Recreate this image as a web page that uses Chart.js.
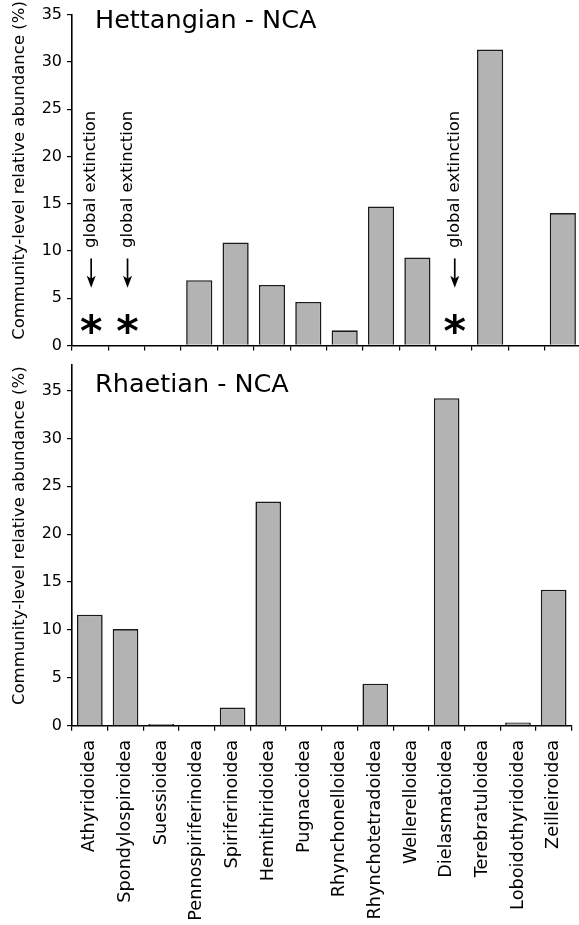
<!DOCTYPE html>
<html><head><meta charset="utf-8">
<script src="https://cdn.jsdelivr.net/npm/chart.js@4.4.1/dist/chart.umd.min.js"></script>
<style>
html,body{margin:0;padding:0;background:#fff;overflow:hidden;width:579px;height:925px;}
#wrap{position:relative;width:579px;height:925px;overflow:hidden;background:#fff;}
canvas{position:absolute;left:0;}
#c1{top:0;} #c2{top:350px;}
</style></head><body>
<div id="wrap">
<canvas id="c1" width="584" height="360"></canvas>
<canvas id="c2" width="584" height="575"></canvas>
</div>
<script>
// ---- data ----
const categories = ["Athyridoidea", "Spondylospiroidea", "Suessioidea", "Pennospiriferinoidea",
  "Spiriferinoidea", "Hemithiridoidea", "Pugnacoidea", "Rhynchonelloidea", "Rhynchotetradoidea",
  "Wellerelloidea", "Dielasmatoidea", "Terebratuloidea", "Loboidothyridoidea", "Zeilleiroidea"];
const hettangianValues = [null, null, 0, 6.9, 10.9, 6.4, 4.6, 1.6, 14.7, 9.3, null, 31.3, 0, 14.0];
const rhaetianValues = [11.6, 10.1, 0.2, 0, 1.9, 23.4, 0, 0, 4.4, 0, 34.2, 0, 0.35, 14.2];
const hettangianExtinct = ["Athyridoidea", "Spondylospiroidea", "Dielasmatoidea"];
const yTickValues = [0, 5, 10, 15, 20, 25, 30, 35];
const panelTitles = ["Hettangian - NCA", "Rhaetian - NCA"];
const yAxisTitle = "Community-level relative abundance (%)";
const extinctionLabel = "global extinction";

// ---- styling ----
const FONT = "'DejaVu Sans', sans-serif";
const INK = '#000';

const panelText = {
  id: 'panelText',
  afterDraw(chart, args, opts) {
    const {ctx, chartArea} = chart;
    ctx.save();
    ctx.fillStyle = INK;
    ctx.font = `25.5px ${FONT}`;
    ctx.textAlign = 'left'; ctx.textBaseline = 'alphabetic';
    ctx.fillText(opts.title, chartArea.left + 23, chartArea.top + opts.titleDy);
    ctx.translate(19.5, (chartArea.top + chartArea.bottom) / 2 - 9.5);
    ctx.rotate(-Math.PI / 2);
    ctx.font = `16.5px ${FONT}`;
    ctx.textAlign = 'center'; ctx.textBaseline = 'middle';
    ctx.fillText(yAxisTitle, 0, 0);
    ctx.restore();
  }
};

const extinctionMarks = {
  id: 'extinctionMarks',
  afterDatasetsDraw(chart, args, opts) {
    const names = opts.names || [];
    if (!names.length) return;
    const {ctx} = chart;
    const xs = chart.scales.x, ys = chart.scales.y;
    names.forEach(name => {
      const i = chart.data.labels.indexOf(name);
      if (i < 0) return;
      const x = xs.getPixelForValue(i) + 1;
      ctx.save();
      ctx.fillStyle = INK; ctx.strokeStyle = INK;
      ctx.save();
      ctx.translate(x, ys.getPixelForValue(opts.labelFrom));
      ctx.rotate(-Math.PI / 2);
      ctx.font = `16.5px ${FONT}`;
      ctx.textAlign = 'left'; ctx.textBaseline = 'middle';
      ctx.fillText(extinctionLabel, 0, 0);
      ctx.restore();
      const yTop = ys.getPixelForValue(opts.arrowFrom), yTip = ys.getPixelForValue(opts.arrowTo);
      ctx.lineWidth = 1.7;
      ctx.beginPath(); ctx.moveTo(x, yTop); ctx.lineTo(x, yTip - 8); ctx.stroke();
      ctx.beginPath();
      ctx.moveTo(x - 4.5, yTip - 12); ctx.lineTo(x, yTip); ctx.lineTo(x + 4.5, yTip - 12); ctx.lineTo(x, yTip - 9);
      ctx.closePath(); ctx.fill();
      ctx.font = `bold 43px ${FONT}`;
      const m = ctx.measureText('*');
      const yc = ys.getPixelForValue(opts.starAt);
      ctx.textAlign = 'center'; ctx.textBaseline = 'alphabetic';
      ctx.fillText('*', x, yc + (m.actualBoundingBoxAscent - m.actualBoundingBoxDescent) / 2);
      ctx.restore();
    });
  }
};

function makeChart(canvasId, values, o) {
  return new Chart(document.getElementById(canvasId), {
    type: 'bar',
    data: {
      labels: categories,
      datasets: [{
        data: values, backgroundColor: '#b3b3b3', borderColor: '#1a1a1a', borderWidth: 1.6,
        barPercentage: 0.72, categoryPercentage: 1
      }]
    },
    options: {
      responsive: false, animation: false, devicePixelRatio: 1,
      layout: {padding: {top: o.padTop, right: 3, left: 0, bottom: o.padBottom}},
      plugins: {
        legend: {display: false}, tooltip: {enabled: false},
        panelText: {title: o.title, titleDy: o.titleDy},
        extinctionMarks: {names: o.extinct || [], labelFrom: 10.3, arrowFrom: 9.2, arrowTo: 6.1, starAt: 2.3}
      },
      scales: {
        x: {
          offset: true,
          grid: {display: true, drawOnChartArea: false, drawTicks: true, tickLength: 5, color: INK, lineWidth: 1.2, offset: true},
          border: {display: true, color: INK, width: 1.6},
          ticks: {display: o.showLabels, autoSkip: false, minRotation: 90, maxRotation: 90, padding: 9,
            color: INK, font: {family: 'DejaVu Sans', size: 17.7}},
          afterFit(s) { s.height = o.xHeight; }
        },
        y: {
          min: 0, max: o.yMax,
          grid: {display: true, drawOnChartArea: false, drawTicks: true, tickLength: 5, color: INK, lineWidth: 1.2},
          border: {display: true, color: INK, width: 1.6},
          ticks: {padding: 5, color: INK, font: {family: 'DejaVu Sans', size: 16}},
          afterBuildTicks(s) { s.ticks = yTickValues.map(v => ({value: v})); },
          afterFit(s) { s.width = 72; }
        }
      }
    },
    plugins: [panelText, extinctionMarks]
  });
}

makeChart('c1', hettangianValues, {
  title: panelTitles[0], titleDy: 13.2, padTop: 13.5, padBottom: 2, xHeight: 8,
  showLabels: false, yMax: 35, extinct: hettangianExtinct
});
makeChart('c2', rhaetianValues, {
  title: panelTitles[1], titleDy: 27, padTop: 13, padBottom: 0, xHeight: 199.2,
  showLabels: true, yMax: 37.7
});
</script>
</body></html>
